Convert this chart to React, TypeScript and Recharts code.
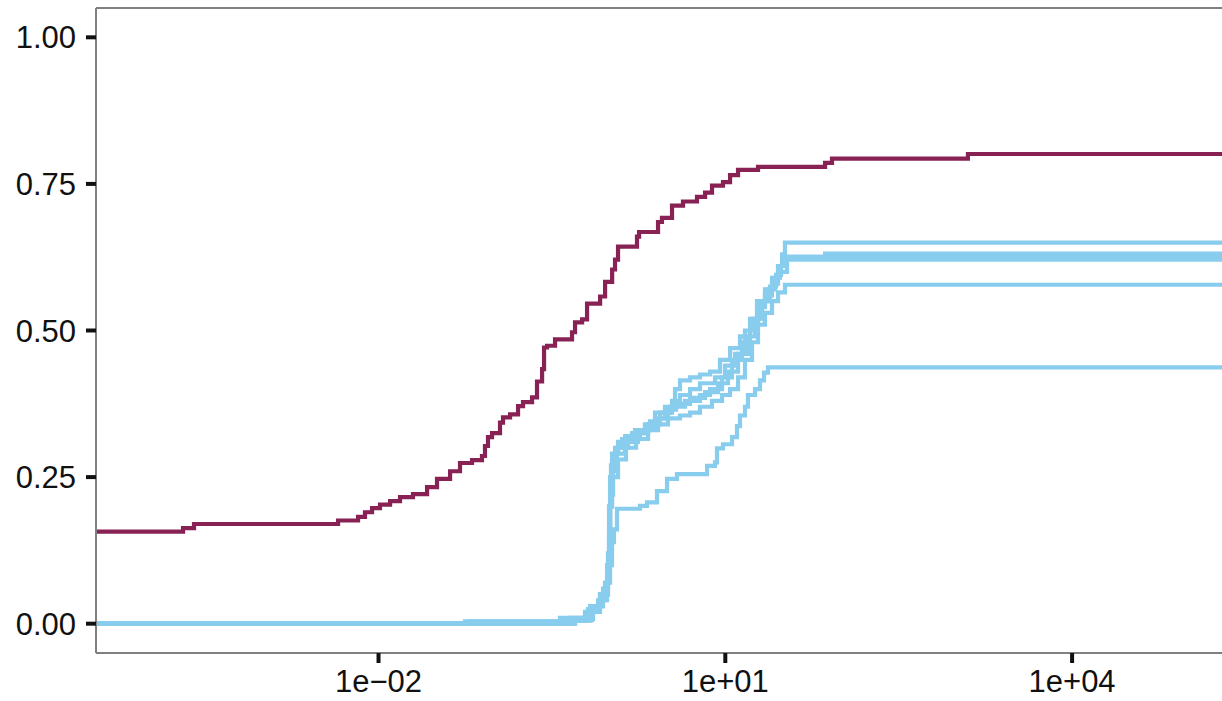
import { Line, LineChart, ReferenceLine, XAxis, YAxis } from "recharts";

// x values are stored as log10 exponents
const X_MIN_EXP = -4.444;
const X_MAX_EXP = 5.539;

const X_TICKS = [1e-2, 1e1, 1e4];
const Y_TICKS = [0, 0.25, 0.5, 0.75, 1];

const WINE = "#882255";
const CYAN = "#88CCEE";

// [log10(x), ecdf]
const wineSteps: [number, number][] = [
  [-4.444, 0.157], [-3.691, 0.163], [-3.596, 0.17], [-2.35, 0.176], [-2.177, 0.182],
  [-2.117, 0.19], [-2.056, 0.197], [-1.987, 0.203], [-1.9, 0.209], [-1.814, 0.216],
  [-1.702, 0.221], [-1.58, 0.233], [-1.494, 0.247], [-1.381, 0.26], [-1.295, 0.274],
  [-1.191, 0.279], [-1.105, 0.286], [-1.079, 0.303], [-1.053, 0.318], [-1.018, 0.325],
  [-0.949, 0.343], [-0.923, 0.352], [-0.862, 0.357], [-0.793, 0.371], [-0.75, 0.378],
  [-0.672, 0.386], [-0.629, 0.413], [-0.585, 0.434], [-0.568, 0.471], [-0.542, 0.474],
  [-0.473, 0.485], [-0.326, 0.497], [-0.3, 0.514], [-0.239, 0.519], [-0.196, 0.546],
  [-0.083, 0.558], [-0.04, 0.583], [0.021, 0.604], [0.046, 0.621], [0.072, 0.643],
  [0.236, 0.66], [0.254, 0.668], [0.418, 0.685], [0.452, 0.692], [0.539, 0.713],
  [0.634, 0.72], [0.755, 0.728], [0.825, 0.735], [0.885, 0.747], [0.98, 0.753],
  [1.041, 0.765], [1.11, 0.774], [1.283, 0.779], [1.863, 0.786], [1.923, 0.793],
  [3.099, 0.801],
];

const cyanA: [number, number][] = [
  [-4.444, 0], [-1.252, 0.004], [-0.43, 0.01], [-0.214, 0.02], [-0.101, 0.04],
  [-0.041, 0.07], [-0.006, 0.15], [0.003, 0.25], [0.02, 0.29], [0.072, 0.31],
  [0.133, 0.32], [0.219, 0.33], [0.305, 0.34], [0.392, 0.36], [0.478, 0.37],
  [0.565, 0.4], [0.608, 0.415], [0.695, 0.42], [0.781, 0.425], [0.868, 0.43],
  [0.954, 0.45], [1.041, 0.47], [1.127, 0.49], [1.214, 0.52], [1.274, 0.55],
  [1.343, 0.57], [1.404, 0.59], [1.456, 0.61], [1.491, 0.63], [1.516, 0.65],
];

const cyanB: [number, number][] = [
  [-4.444, 0], [-1.208, 0.004], [-0.343, 0.01], [-0.17, 0.03], [-0.084, 0.05],
  [-0.023, 0.1], [-0.006, 0.2], [0.011, 0.27], [0.046, 0.3], [0.107, 0.315],
  [0.193, 0.325], [0.305, 0.335], [0.392, 0.35], [0.478, 0.36], [0.539, 0.38],
  [0.608, 0.39], [0.695, 0.4], [0.781, 0.41], [0.911, 0.42], [0.997, 0.44],
  [1.084, 0.46], [1.17, 0.5], [1.231, 0.52], [1.3, 0.55], [1.369, 0.57],
  [1.43, 0.59], [1.473, 0.61], [1.499, 0.624], [1.863, 0.631],
];

const cyanC: [number, number][] = [
  [-4.444, 0], [-0.3, 0.008], [-0.144, 0.03], [-0.058, 0.06], [-0.015, 0.12],
  [0.003, 0.22], [0.029, 0.28], [0.063, 0.3], [0.158, 0.315], [0.262, 0.33],
  [0.349, 0.345], [0.435, 0.36], [0.522, 0.37], [0.651, 0.38], [0.781, 0.39],
  [0.868, 0.4], [0.972, 0.42], [1.058, 0.45], [1.145, 0.48], [1.214, 0.51],
  [1.283, 0.54], [1.343, 0.56], [1.404, 0.58], [1.456, 0.6], [1.534, 0.621],
];

const cyanD: [number, number][] = [
  [-4.444, 0], [-0.387, 0.005], [-0.188, 0.025], [-0.084, 0.05], [-0.015, 0.1],
  [0.003, 0.2], [0.02, 0.26], [0.055, 0.29], [0.133, 0.31], [0.245, 0.325],
  [0.332, 0.34], [0.435, 0.35], [0.504, 0.365], [0.574, 0.375], [0.695, 0.385],
  [0.825, 0.395], [0.937, 0.41], [1.023, 0.43], [1.11, 0.46], [1.196, 0.49],
  [1.257, 0.52], [1.318, 0.55], [1.387, 0.575], [1.439, 0.595], [1.482, 0.61],
  [1.508, 0.626],
];

const cyanE: [number, number][] = [
  [-4.444, 0], [-0.326, 0.006], [-0.153, 0.03], [-0.067, 0.05], [-0.015, 0.1],
  [0.003, 0.2], [0.02, 0.25], [0.072, 0.28], [0.141, 0.3], [0.228, 0.315],
  [0.332, 0.33], [0.418, 0.34], [0.504, 0.35], [0.608, 0.355], [0.695, 0.36],
  [0.781, 0.37], [0.885, 0.38], [0.972, 0.39], [1.041, 0.4], [1.11, 0.42],
  [1.17, 0.45], [1.231, 0.48], [1.283, 0.51], [1.343, 0.53], [1.404, 0.55],
  [1.456, 0.565], [1.516, 0.578],
];

const cyanF: [number, number][] = [
  [-4.444, 0], [-0.3, 0.005], [-0.17, 0.02], [-0.084, 0.04], [-0.023, 0.07],
  [0.003, 0.1], [0.02, 0.139], [0.037, 0.161], [0.063, 0.196], [0.262, 0.201],
  [0.323, 0.207], [0.409, 0.226], [0.496, 0.247], [0.582, 0.255], [0.842, 0.269],
  [0.911, 0.275], [0.928, 0.299], [0.98, 0.306], [1.058, 0.318], [1.101, 0.337],
  [1.127, 0.355], [1.17, 0.37], [1.196, 0.39], [1.257, 0.4], [1.3, 0.415],
  [1.335, 0.428], [1.369, 0.437],
];

const cyanSeries = [cyanA, cyanB, cyanC, cyanD, cyanE, cyanF];

function toRows(steps: [number, number][]) {
  const last = steps[steps.length - 1][1];
  return [...steps, [X_MAX_EXP, last] as [number, number]].map(([e, y]) => ({
    x: Math.pow(10, e),
    y,
  }));
}

function expLabel(v: number) {
  const e = Math.round(Math.log10(v));
  const sign = e < 0 ? "\u2212" : "+";
  return `1e${sign}${String(Math.abs(e)).padStart(2, "0")}`;
}

const tickStyle = { fontFamily: "'Liberation Sans', Arial, sans-serif", fontSize: 31, fill: "#111" };

export default function App() {
  return (
    <div style={{ position: "absolute", left: 0, top: 0, width: 1222, height: 701, overflow: "hidden", background: "#fff" }}>
      <LineChart width={1250} height={701} margin={{ top: 8, right: 0, bottom: 0, left: 0 }}>
        <XAxis
          dataKey="x"
          type="number"
          scale="log"
          domain={[Math.pow(10, X_MIN_EXP), Math.pow(10, X_MAX_EXP)]}
          allowDataOverflow
          ticks={X_TICKS}
          tickFormatter={expLabel}
          height={48}
          tick={tickStyle}
          tickSize={10}
          tickMargin={7}
          axisLine={{ stroke: "#808080", strokeWidth: 2 }}
          tickLine={{ stroke: "#111", strokeWidth: 4 }}
        />
        <YAxis
          type="number"
          domain={[-0.05, 1.05]}
          ticks={Y_TICKS}
          tickFormatter={(v: number) => v.toFixed(2)}
          width={96}
          tick={tickStyle}
          tickSize={10}
          tickMargin={10}
          axisLine={{ stroke: "#808080", strokeWidth: 2 }}
          tickLine={{ stroke: "#111", strokeWidth: 4 }}
        />
        <ReferenceLine y={1.05} stroke="#808080" strokeWidth={2} />
        <Line
          data={toRows(wineSteps)}
          dataKey="y"
          type="stepAfter"
          stroke={WINE}
          strokeWidth={4.2}
          dot={false}
          isAnimationActive={false}
        />
        {cyanSeries.map((s, i) => (
          <Line
            key={i}
            data={toRows(s)}
            dataKey="y"
            type="stepAfter"
            stroke={CYAN}
            strokeWidth={4.2}
            dot={false}
            isAnimationActive={false}
          />
        ))}
      </LineChart>
    </div>
  );
}
